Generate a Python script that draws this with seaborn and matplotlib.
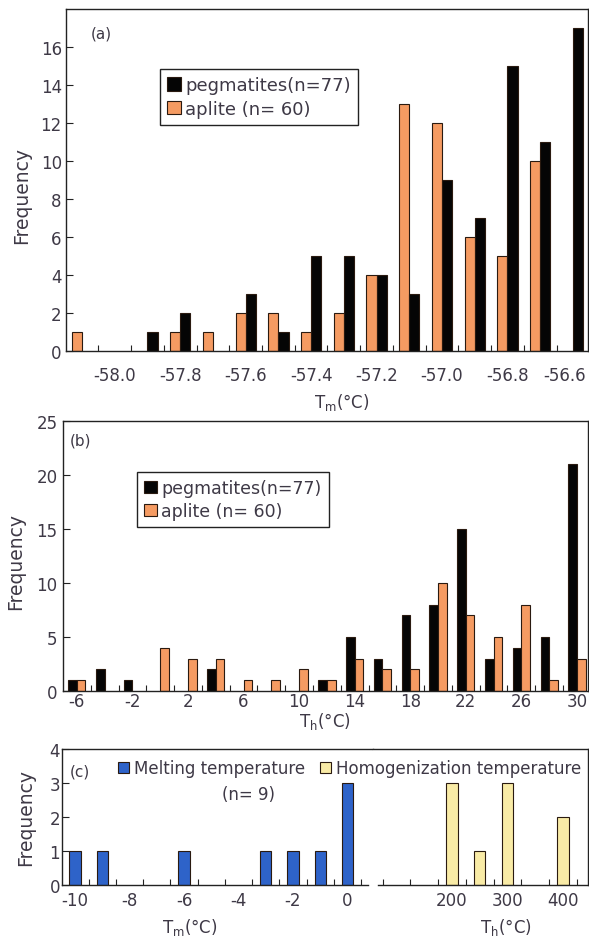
import matplotlib
matplotlib.use("Agg")
import matplotlib.pyplot as plt
from matplotlib.patches import Patch
from matplotlib.ticker import FixedLocator
from matplotlib.transforms import ScaledTranslation
import pandas as pd
import seaborn as sns

# ---- (a) CO2 melting temperature, 0.1 °C bins (bin centres) ----
tm_bins = [-58.1, -58.0, -57.9, -57.8, -57.7, -57.6, -57.5, -57.4,
           -57.3, -57.2, -57.1, -57.0, -56.9, -56.8, -56.7, -56.6]
tm_pegmatite = [0, 0, 1, 2, 0, 3, 1, 5, 5, 4, 3, 9, 7, 15, 11, 17]
tm_aplite = [1, 0, 0, 1, 1, 2, 2, 1, 2, 4, 13, 12, 6, 5, 10, 0]
tm_ticks = [-58.0, -57.8, -57.6, -57.4, -57.2, -57.0, -56.8, -56.6]

# ---- (b) CO2 homogenization temperature, 2 °C bins ----
th_bins = [-6, -4, -2, 0, 2, 4, 6, 8, 10, 12, 14, 16, 18, 20, 22, 24, 26, 28, 30]
th_pegmatite = [1, 2, 1, 0, 0, 2, 0, 0, 0, 1, 5, 3, 7, 8, 15, 3, 4, 5, 21]
th_aplite = [1, 0, 0, 4, 3, 3, 1, 1, 2, 1, 3, 2, 2, 10, 7, 5, 8, 1, 3]
th_ticks = [-6, -2, 2, 6, 10, 14, 18, 22, 26, 30]

# ---- (c) aqueous inclusions ----
melt_t = [-10, -9, -6, -3, -2, -1, 0]
melt_n = [1, 1, 1, 1, 1, 1, 3]
melt_ticks = [-10, -8, -6, -4, -2, 0]
homog_t = [200, 250, 300, 400]
homog_n = [3, 1, 3, 2]
homog_ticks = [200, 300, 400]

BLACK = "#050505"
ORANGE = "#F59B62"
BLUE = "#2E63C9"
YELLOW = "#F9EBA6"
EDGE = "#2a1a10"
TXT = "#3e3946"
SPINE = "#222222"

sns.set_theme(style="white")
plt.rcParams["font.family"] = ["DejaVu Sans"]
plt.rcParams["axes.unicode_minus"] = False
plt.rcParams["text.color"] = TXT
plt.rcParams["axes.labelcolor"] = TXT
plt.rcParams["xtick.color"] = SPINE
plt.rcParams["ytick.color"] = SPINE
plt.rcParams["xtick.labelcolor"] = TXT
plt.rcParams["ytick.labelcolor"] = TXT
plt.rcParams["mathtext.default"] = "regular"

W, H = 589, 937
fig = plt.figure(figsize=(W / 100, H / 100), dpi=100)


def px_axes(left, top, right, bottom):
    return fig.add_axes([left / W, 1 - bottom / H, (right - left) / W, (bottom - top) / H])


def style_axes(ax, spines=("left", "right", "top", "bottom")):
    for name, sp in ax.spines.items():
        sp.set_visible(name in spines)
        sp.set_color(SPINE)
        sp.set_linewidth(1.0)


def midpoints(vals):
    return [(a + b) / 2 for a, b in zip(vals[:-1], vals[1:])]


def long_table(x, series):
    rows = []
    for name, vals in series:
        for xi, v in zip(x, vals):
            if v > 0:
                rows.append({"T": xi, "count": v, "group": name})
    return pd.DataFrame(rows)


palette = {"pegmatites": BLACK, "aplite": ORANGE}


def group_handles():
    return [
        Patch(facecolor=BLACK, edgecolor=EDGE, linewidth=0.8, label="pegmatites(n=77)"),
        Patch(facecolor=ORANGE, edgecolor=EDGE, linewidth=0.8, label="aplite (n= 60)"),
    ]


def boxed_legend(ax, left_px, top_px, size):
    leg = ax.legend(handles=group_handles(), loc="upper left",
                    bbox_to_anchor=(left_px / W, 1 - top_px / H), bbox_transform=fig.transFigure,
                    frameon=True, fancybox=False, edgecolor=SPINE, framealpha=1,
                    borderpad=0.4, borderaxespad=0, handlelength=0.75, handleheight=0.75,
                    handletextpad=0.25, labelspacing=0.3, fontsize=size)
    leg.get_frame().set_linewidth(1.0)
    return leg


# ================= (a) =================
ax_a = px_axes(66, 10, 588, 352)
df_a = long_table(tm_bins, [("aplite", tm_aplite), ("pegmatites", tm_pegmatite)])
sns.barplot(data=df_a, x="T", y="count", hue="group", hue_order=["aplite", "pegmatites"],
            palette=palette, native_scale=True, width=0.62, dodge=True, saturation=1,
            errorbar=None, edgecolor=EDGE, linewidth=0.8, legend=False, ax=ax_a)
style_axes(ax_a)
ax_a.set_xlim(-58.149, -56.554)
ax_a.set_ylim(0, 18)
ax_a.set_xticks(tm_ticks)
ax_a.set_xticklabels([f"{t:.1f}" for t in tm_ticks])
ax_a.xaxis.set_minor_locator(FixedLocator(midpoints(tm_bins)))
ax_a.set_yticks(range(0, 17, 2))
ax_a.tick_params(axis="x", which="major", length=0, pad=11, labelsize=12)
ax_a.tick_params(axis="x", which="minor", length=4, width=0.8, direction="in", bottom=True)
ax_a.tick_params(axis="y", which="major", length=5, width=0.8, direction="in", pad=3, labelsize=12, left=True)
# keep the last label inside the figure edge
last = ax_a.get_xticklabels()[-1]
last.set_transform(last.get_transform() + ScaledTranslation(-0.08, 0, fig.dpi_scale_trans))
ax_a.set_xlabel("T$_{m}$(°C)", fontsize=12)
ax_a.set_ylabel("Frequency", fontsize=13.5)
ax_a.xaxis.set_label_coords(0.529, -0.117)
ax_a.yaxis.set_label_coords(-0.066, 0.459)
ax_a.text(0.048, 0.93, "(a)", transform=ax_a.transAxes, fontsize=11, ha="left", va="center")
boxed_legend(ax_a, 160, 70, 13)

# ================= (b) =================
ax_b = px_axes(63, 422, 588, 692)
df_b = long_table(th_bins, [("pegmatites", th_pegmatite), ("aplite", th_aplite)])
sns.barplot(data=df_b, x="T", y="count", hue="group", hue_order=["pegmatites", "aplite"],
            palette=palette, native_scale=True, width=0.62, dodge=True, saturation=1,
            errorbar=None, edgecolor=EDGE, linewidth=0.8, legend=False, ax=ax_b)
style_axes(ax_b)
ax_b.set_xlim(-7.0, 30.8)
ax_b.set_ylim(0, 25)
ax_b.set_xticks(th_ticks)
ax_b.set_xticklabels([str(t) for t in th_ticks])
ax_b.xaxis.set_minor_locator(FixedLocator(midpoints(th_bins)))
ax_b.set_yticks(range(0, 26, 5))
ax_b.tick_params(axis="x", which="major", length=0, pad=1, labelsize=12)
ax_b.tick_params(axis="x", which="minor", length=4, width=0.8, direction="in", bottom=True)
ax_b.tick_params(axis="y", which="major", length=5, width=0.8, direction="in", pad=4, labelsize=12, left=True)
ax_b.set_xlabel("T$_{h}$(°C)", fontsize=12)
ax_b.set_ylabel("Frequency", fontsize=13.5)
ax_b.xaxis.set_label_coords(0.499, -0.072)
ax_b.yaxis.set_label_coords(-0.072, 0.485)
ax_b.text(0.013, 0.93, "(b)", transform=ax_b.transAxes, fontsize=11, ha="left", va="center")
boxed_legend(ax_b, 137, 473, 12.5)

# ================= (c) =================
ax_cl = px_axes(62, 750, 373, 886)
ax_cr = px_axes(373, 750, 588, 886)

sns.barplot(x=melt_t, y=melt_n, native_scale=True, width=0.42, color=BLUE, saturation=1,
            errorbar=None, edgecolor=EDGE, linewidth=0.8, ax=ax_cl)
sns.barplot(x=homog_t, y=homog_n, native_scale=True, width=0.4, color=YELLOW, saturation=1,
            errorbar=None, edgecolor=EDGE, linewidth=0.8, ax=ax_cr)

style_axes(ax_cl, spines=("left", "top", "bottom"))
style_axes(ax_cr, spines=("right", "top", "bottom"))

ax_cl.set_xlim(-10.477, 0.936)
ax_cl.spines["bottom"].set_bounds(-10.477, 0.752)
ax_cl.set_ylim(0, 4)
ax_cl.set_xticks(melt_ticks)
ax_cl.set_xticklabels([str(t) for t in melt_ticks])
ax_cl.xaxis.set_minor_locator(FixedLocator([t + 0.5 for t in range(-10, 1)]))
ax_cl.set_yticks(range(0, 5))
ax_cl.tick_params(axis="x", which="major", length=0, pad=4, labelsize=12)
ax_cl.tick_params(axis="x", which="minor", length=4, width=0.8, direction="in", bottom=True)
ax_cl.tick_params(axis="y", which="major", length=5, width=0.8, direction="in", pad=1.5, labelsize=12, left=True)
ax_cl.set_xlabel("T$_{m}$(°C)", fontsize=12)
ax_cl.set_ylabel("Frequency", fontsize=13.5)
ax_cl.xaxis.set_label_coords(0.41, -0.228)
ax_cl.yaxis.set_label_coords(-0.087, 0.5)
ax_cl.text(0.025, 0.84, "(c)", transform=ax_cl.transAxes, fontsize=11, ha="left", va="center")

ax_cr.set_xlim(57.7, 445)
ax_cr.spines["bottom"].set_bounds(66.7, 445)
ax_cr.set_ylim(0, 4)
ax_cr.set_xticks(homog_ticks)
ax_cr.set_xticklabels([str(t) for t in homog_ticks])
ax_cr.xaxis.set_minor_locator(FixedLocator(list(range(75, 450, 50))))
ax_cr.set_yticks([])
ax_cr.tick_params(axis="x", which="major", length=0, pad=4, labelsize=12)
ax_cr.tick_params(axis="x", which="minor", length=4, width=0.8, direction="in", bottom=True)
ax_cr.set_xlabel("T$_{h}$(°C)", fontsize=12)
ax_cr.set_ylabel("")
ax_cr.xaxis.set_label_coords(0.62, -0.228)

fig.legend(handles=[Patch(facecolor=BLUE, edgecolor=EDGE, linewidth=0.8,
                          label="Melting temperature")],
           loc="center left", bbox_to_anchor=(118 / W, 1 - 769 / H),
           frameon=False, borderpad=0, borderaxespad=0, handlelength=0.65,
           handleheight=0.65, handletextpad=0.3, fontsize=12)
fig.text(248 / W, 1 - 795 / H, "(n= 9)", fontsize=12, ha="center", va="center")
fig.legend(handles=[Patch(facecolor=YELLOW, edgecolor=EDGE, linewidth=0.8,
                          label="Homogenization temperature")],
           loc="center left", bbox_to_anchor=(320 / W, 1 - 769 / H),
           frameon=False, borderpad=0, borderaxespad=0, handlelength=0.65,
           handleheight=0.65, handletextpad=0.3, fontsize=12)

fig.savefig("out.png", dpi=100)
